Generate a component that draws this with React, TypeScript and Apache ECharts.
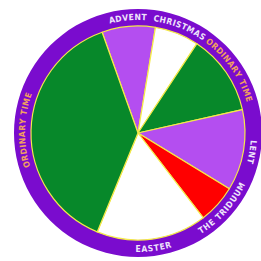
import React, { useEffect, useRef } from "react";
import * as echarts from "echarts";

const categories = ["ADVENT", "CHRISTMAS", "ORDINARY TIME", "LENT", "THE TRIDUUM", "EASTER", "ORDINARY TIME"];
const values = [29, 24, 44, 44, 21, 60, 138];
const sliceColors = ["#b44ef0", "#ffffff", "#07882a", "#b44ef0", "#ff0000", "#ffffff", "#07882a"];
const labelColors = ["#efe4fb", "#efe4fb", "#f2a15e", "#efe4fb", "#efe4fb", "#efe4fb", "#f2a15e"];

const CX = 138;
const CY = 133;
const PIE_R = 107;
const RING_R = 124;
const TEXT_R = 116;
const START_CW = 340.4; // clockwise from top, degrees
const FONT = 'bold 8.5px "Liberation Sans Narrow", "DejaVu Sans Condensed", Arial, sans-serif';

function buildLabels() {
  const canvas = document.createElement("canvas");
  const ctx = canvas.getContext("2d")!;
  ctx.font = FONT;
  const total = values.reduce((a, b) => a + b, 0);
  const out: any[] = [];
  let cum = 0;
  categories.forEach((text, i) => {
    const mid = ((START_CW + ((cum + values[i] / 2) / total) * 360) % 360);
    cum += values[i];
    const flip = mid > 110 && mid < 250;
    const dir = flip ? -1 : 1;
    const chars = text.split("");
    const widths = chars.map((c) => ctx.measureText(c).width + 0.6);
    const tw = widths.reduce((a, b) => a + b, 0);
    const midRad = (mid * Math.PI) / 180;
    const start = midRad - (dir * (tw / TEXT_R)) / 2;
    let acc = 0;
    chars.forEach((c, k) => {
      const a = start + (dir * (acc + widths[k] / 2)) / TEXT_R;
      acc += widths[k];
      out.push({
        type: "text",
        x: CX + TEXT_R * Math.sin(a),
        y: CY - TEXT_R * Math.cos(a),
        rotation: flip ? Math.PI - a : -a,
        z: 100,
        silent: true,
        style: {
          text: c,
          fill: labelColors[i],
          font: FONT,
          align: "center",
          verticalAlign: "middle",
        },
      });
    });
  });
  return out;
}

export default function App() {
  const ref = useRef<HTMLDivElement>(null);
  useEffect(() => {
    document.body.style.margin = "0";
    const chart = echarts.init(ref.current!, null, { renderer: "svg" });
    chart.setOption({
      animation: false,
      backgroundColor: "#ffffff",
      series: [
        {
          type: "pie",
          silent: true,
          center: [CX, CY],
          radius: [PIE_R - 2, RING_R],
          label: { show: false },
          labelLine: { show: false },
          itemStyle: { color: "#7a0cce" },
          data: [{ value: 1, name: "ring" }],
          z: 1,
        },
        {
          type: "pie",
          silent: true,
          center: [CX, CY],
          radius: [0, PIE_R],
          startAngle: 90 - START_CW + 360,
          clockwise: true,
          label: { show: false },
          labelLine: { show: false },
          itemStyle: { borderColor: "#f4e94a", borderWidth: 1.2 },
          data: categories.map((name, i) => ({
            name,
            value: values[i],
            itemStyle: { color: sliceColors[i] },
          })),
          z: 2,
        },
      ],
      graphic: buildLabels(),
    });
    return () => chart.dispose();
  }, []);
  return <div ref={ref} style={{ width: 261, height: 261 }} />;
}
